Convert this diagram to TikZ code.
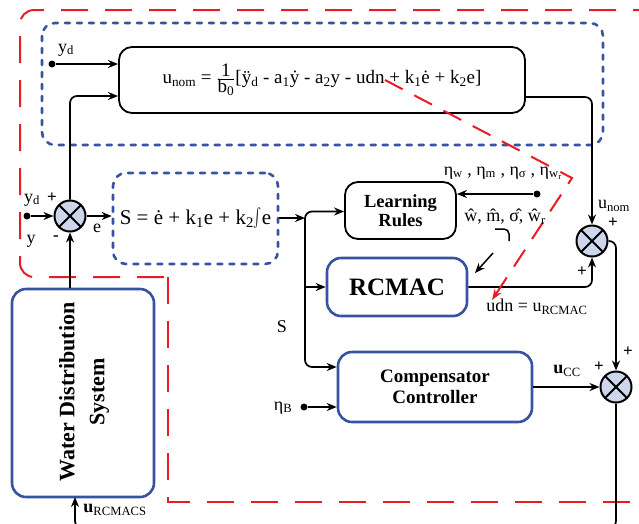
\documentclass[tikz,border=0pt]{standalone}
\usepackage{graphicx}
\usepackage{fontspec}
\setmainfont{Liberation Serif}
\usetikzlibrary{arrows.meta,calc}
\definecolor{boxblue}{RGB}{55,82,160}
\definecolor{dashred}{RGB}{232,28,36}
\definecolor{sumfill}{RGB}{206,214,236}
\newcommand{\sub}[1]{\textsubscript{#1}}
\newcommand{\tallint}{\raisebox{-0.45ex}{\scalebox{1.2}[1.9]{$\int$}}}
\begin{document}
\begin{tikzpicture}[x=1pt,y=-1pt,
  tip/.style={-{Stealth[length=10pt,width=8pt]}},
  conn/.style={line width=1.7pt, tip, rounded corners=7pt},
  blackbox/.style={draw, line width=1.8pt, rounded corners=13pt, align=center, inner sep=0pt},
  bluebox/.style={draw=boxblue, line width=2.6pt, rounded corners=14pt, align=center, inner sep=0pt},
  bluedash/.style={draw=boxblue, line width=2.6pt, line cap=round, dash pattern=on 5pt off 7pt, rounded corners=13pt},
  reddash/.style={draw=dashred, line width=2pt, dash pattern=on 27pt off 17pt},
  summer/.style={circle, draw, line width=2pt, fill=sumfill, minimum size=31pt, inner sep=0pt,
    path picture={\draw[line width=2pt]
      (path picture bounding box.south west) -- (path picture bounding box.north east)
      (path picture bounding box.north west) -- (path picture bounding box.south east);}},
  lbl/.style={font=\fontsize{18}{20}\selectfont, inner sep=0pt},
  sign/.style={font=\fontsize{17}{19}\selectfont\bfseries, inner sep=0pt},
  dot/.style={circle, fill, inner sep=0pt, minimum size=7pt},
]
\useasboundingbox (0,0) rectangle (639,523);
\clip (0,0) rectangle (639,523);

% outer red dashed boundary
\draw[reddash, rounded corners=14pt] (660,10) -- (20,10) -- (20,277) -- (168,277);
\draw[reddash] (168,277) -- (168,502) -- (660,502);

% blue dashed region of the nominal controller
\draw[bluedash] (42,23) rectangle (603,145);

% blocks
\node[blackbox, minimum width=406pt, minimum height=66pt] (formula) at (322,80)
  {\fontsize{19}{22}\selectfont u\sub{nom} = $\frac{\mbox{1}}{\mbox{b\sub{0}}}$[\"{y}\sub{d} - a\sub{1}\.{y} - a\sub{2}y - udn + k\sub{1}\.{e} + k\sub{2}e]};
\node[bluedash, minimum width=165pt, minimum height=91pt, inner sep=0pt] (sbox) at (195.5,218.5)
  {\fontsize{21}{24}\selectfont S = \.{e} + k\sub{1}e + k\sub{2}\tallint e};
\node[blackbox, minimum width=111pt, minimum height=57pt, font=\fontsize{18.5}{19}\selectfont\bfseries] (lr) at (400.5,210.5) {Learning\\Rules};
\node[bluebox, minimum width=140pt, minimum height=58pt, font=\fontsize{25}{27}\selectfont\bfseries] (rc) at (397,287) {RCMAC};
\node[bluebox, minimum width=194pt, minimum height=70pt, font=\fontsize{19}{21}\selectfont\bfseries] (comp) at (435,387) {Compensator\\Controller};
\node[bluebox, minimum width=142pt, minimum height=208pt] (wds) at (83,393) {};
\node[rotate=90, align=center, font=\fontsize{22}{30}\selectfont\bfseries, inner sep=0pt] (wdstxt) at (84,392) {Water Distribution\\System};

% summing junctions
\node[summer] (s1) at (70,216) {};
\node[summer] (s2) at (592,241) {};
\node[summer] (s3) at (616,387) {};

% named points
\node[dot] (ydtop) at (52,64) {};
\node[dot] (ydleft) at (27,216) {};
\node[dot] (eta) at (537,194) {};
\node[dot] (etab) at (304,407) {};
\coordinate (jn) at (305,218);
\coordinate (bot) at (0,528);
\coordinate (wdsin) at (75,497);
\coordinate (hookA) at (495,229);
\coordinate (hookB) at (509,241);
\coordinate (updA) at (493,253);
\coordinate (updB) at (475,273);
\coordinate (errA) at (385,80);
\coordinate (errB) at (572,178);
\coordinate (errC) at (492,300);

% connectors
\draw[conn] (ydtop) -- (ydtop -| formula.west);
\draw[conn] (s1.north) |- ($(formula.west)+(0,16)$);
\draw[conn] (ydleft) -- (s1.west);
\draw[conn] (s1 |- wds.north) -- (s1.south);
\draw[conn] (s1.east) -- (s1 -| sbox.west);
\draw[conn] (jn -| sbox.east) -- (jn);
\draw[conn] (jn) |- ($(lr.west)+(0,1)$);
\draw[conn] (jn |- rc.west) -- (rc.west);
\draw[conn] (jn) |- ($(comp.west)+(0,-20)$);
\draw[conn] (etab) -- (etab -| comp.west);
\draw[conn] (eta) -- (eta -| lr.east);
\draw[conn] ($(formula.east)+(0,17)$) -| (s2.north);
\draw[conn] (rc.east) -| (s2.south);
\draw[conn] (s2.east) -| (s3.north);
\draw[conn] (comp.east) -- (s3.west);
\draw[conn] (s3.south) -- (s3 |- bot) -- (wdsin |- bot) -- (wdsin);
\draw[line width=1.5pt, rounded corners=5pt] (hookA) -- (hookB |- hookA) -- (hookB);
\draw[line width=1.5pt, tip] (updA) -- (updB);

% red dashed adaptation path
\draw[dashred, line width=2pt, dash pattern=on 20pt off 13pt, -{Stealth[length=11pt,width=8pt]}]
  (errA) -- (errB) -- (errC);

% labels
\node[lbl] at (66,50) {y\sub{d}};
\node[lbl] at (32,200) {y\sub{d}};
\node[sign] at (52,198) {+};
\node[lbl] at (31,241) {y};
\node[sign] at (56,238) {-};
\node[lbl] at (97,228) {e};
\node[lbl] at (282,327) {S};
\node[lbl] at (283,408) {η\sub{B}};
\node[lbl] at (503,173) {η\sub{w} , η\sub{m} , η\sub{σ} , η\sub{w\sub{r}}};
\node[lbl] at (505,217) {\^{w}, \^{m}, \^{σ}, \^{w}\sub{r}};
\node[lbl] at (537,307) {udn = u\sub{RCMAC}};
\node[lbl] at (614,206) {u\sub{nom}};
\node[sign] at (613,223) {+};
\node[sign] at (582,272) {+};
\node[lbl] at (567,371) {\textbf{u}\sub{CC}};
\node[sign] at (599,367) {+};
\node[sign] at (628,352) {+};
\node[lbl] at (115,510) {\textbf{u}\sub{RCMACS}};
\end{tikzpicture}
\end{document}
